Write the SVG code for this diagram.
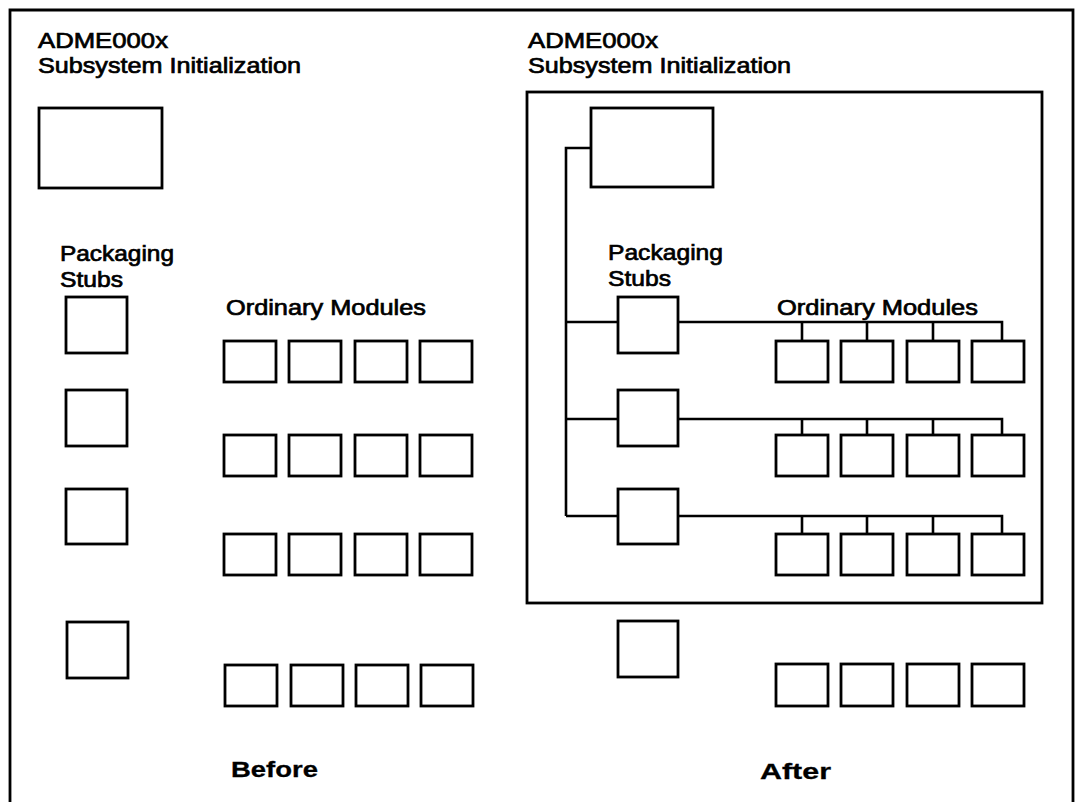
<svg xmlns="http://www.w3.org/2000/svg" width="1078" height="802" viewBox="0 0 1078 802">
<style>
.b{fill:#fff;stroke:#000;stroke-width:2.8}
.f{fill:none;stroke:#000;stroke-width:2.8}
.c{fill:none;stroke:#000;stroke-width:2.6}
.t{font-family:"Liberation Sans",Arial,sans-serif;font-size:22px;fill:#000;stroke:#000;stroke-width:0.7}
.h{font-family:"Liberation Sans",Arial,sans-serif;font-size:22px;font-weight:bold;fill:#000;stroke:#000;stroke-width:0.3}
</style>
<rect width="1078" height="802" fill="#fff"/>
<path class="f" d="M10,806 V10 H1073 V806"/>
<g id="before">
<text class="t" x="38" y="48" textLength="130" lengthAdjust="spacingAndGlyphs">ADME000x</text>
<text class="t" x="38" y="73" textLength="263" lengthAdjust="spacingAndGlyphs">Subsystem Initialization</text>
<rect id="b-init" class="b" x="39" y="108" width="123" height="80"/>
<text class="t" x="60" y="261" textLength="114" lengthAdjust="spacingAndGlyphs">Packaging</text>
<text class="t" x="60" y="287" textLength="63" lengthAdjust="spacingAndGlyphs">Stubs</text>
<text class="t" x="226" y="315" textLength="200" lengthAdjust="spacingAndGlyphs">Ordinary Modules</text>
<g id="b-stubs">
<rect class="b" x="66" y="297" width="61" height="56"/>
<rect class="b" x="66" y="390" width="61" height="56"/>
<rect class="b" x="66" y="489" width="61" height="55"/>
<rect class="b" x="67" y="622" width="61" height="56"/>
</g>
<g id="b-modules">
<rect class="b" x="224" y="341" width="52" height="41"/><rect class="b" x="289" y="341" width="52" height="41"/><rect class="b" x="355" y="341" width="52" height="41"/><rect class="b" x="420" y="341" width="52" height="41"/>
<rect class="b" x="224" y="435" width="52" height="41"/><rect class="b" x="289" y="435" width="52" height="41"/><rect class="b" x="355" y="435" width="52" height="41"/><rect class="b" x="420" y="435" width="52" height="41"/>
<rect class="b" x="224" y="534" width="52" height="41"/><rect class="b" x="289" y="534" width="52" height="41"/><rect class="b" x="355" y="534" width="52" height="41"/><rect class="b" x="420" y="534" width="52" height="41"/>
<rect class="b" x="225" y="665" width="52" height="41"/><rect class="b" x="291" y="665" width="52" height="41"/><rect class="b" x="356" y="665" width="52" height="41"/><rect class="b" x="421" y="665" width="52" height="41"/>
</g>
<text class="h" x="231" y="777" textLength="87" lengthAdjust="spacingAndGlyphs">Before</text>
</g>
<g id="after">
<text class="t" x="528" y="48" textLength="130" lengthAdjust="spacingAndGlyphs">ADME000x</text>
<text class="t" x="528" y="73" textLength="263" lengthAdjust="spacingAndGlyphs">Subsystem Initialization</text>
<rect id="a-frame" class="f" x="527" y="92" width="515" height="511"/>
<text class="t" x="608" y="260" textLength="115" lengthAdjust="spacingAndGlyphs">Packaging</text>
<text class="t" x="608" y="286" textLength="63" lengthAdjust="spacingAndGlyphs">Stubs</text>
<text class="t" x="777" y="315" textLength="201" lengthAdjust="spacingAndGlyphs">Ordinary Modules</text>
<g id="connectors">
<path class="c" d="M591,148 H566 V516"/>
<path class="c" d="M566,322 H618 M678,322 H1002 V341 M802,322 V341 M867,322 V341 M933,322 V341"/>
<path class="c" d="M566,419 H618 M678,419 H1002 V435 M802,419 V435 M867,419 V435 M933,419 V435"/>
<path class="c" d="M566,516 H618 M678,516 H1002 V534 M802,516 V534 M867,516 V534 M933,516 V534"/>
</g>
<rect id="a-init" class="b" x="591" y="108" width="122" height="79"/>
<g id="a-stubs">
<rect class="b" x="618" y="297" width="60" height="56"/>
<rect class="b" x="618" y="390" width="60" height="56"/>
<rect class="b" x="618" y="489" width="60" height="55"/>
<rect class="b" x="618" y="621" width="60" height="56"/>
</g>
<g id="a-modules">
<rect class="b" x="776" y="341" width="52" height="41"/><rect class="b" x="841" y="341" width="52" height="41"/><rect class="b" x="907" y="341" width="52" height="41"/><rect class="b" x="972" y="341" width="52" height="41"/>
<rect class="b" x="776" y="435" width="52" height="41"/><rect class="b" x="841" y="435" width="52" height="41"/><rect class="b" x="907" y="435" width="52" height="41"/><rect class="b" x="972" y="435" width="52" height="41"/>
<rect class="b" x="776" y="534" width="52" height="41"/><rect class="b" x="841" y="534" width="52" height="41"/><rect class="b" x="907" y="534" width="52" height="41"/><rect class="b" x="972" y="534" width="52" height="41"/>
<rect class="b" x="776" y="664" width="52" height="42"/><rect class="b" x="841" y="664" width="52" height="42"/><rect class="b" x="907" y="664" width="52" height="42"/><rect class="b" x="972" y="664" width="52" height="42"/>
</g>
<text class="h" x="760" y="779" textLength="71" lengthAdjust="spacingAndGlyphs">After</text>
</g>
</svg>
